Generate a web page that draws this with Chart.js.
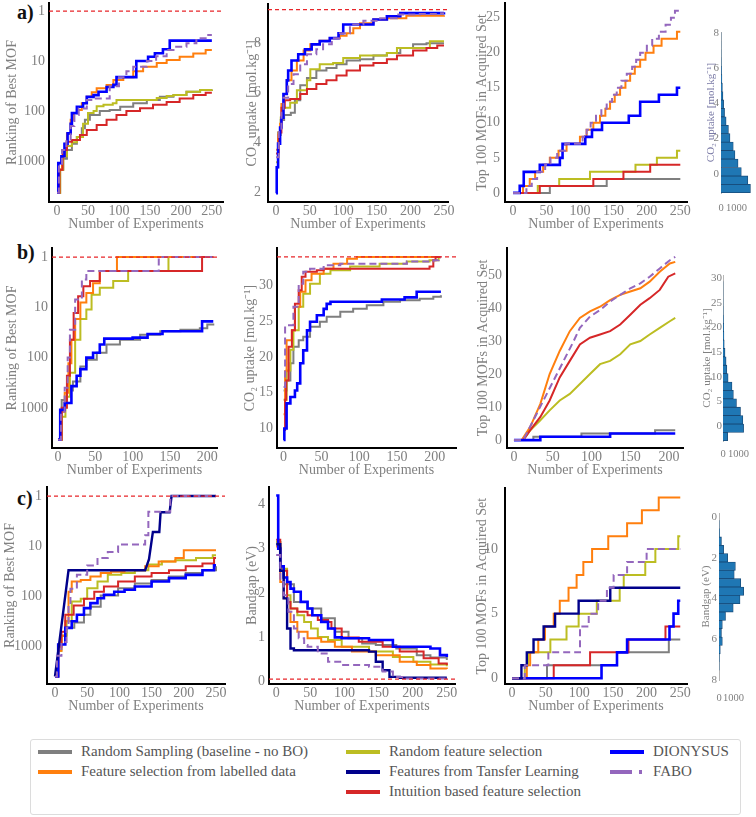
<!DOCTYPE html>
<html><head><meta charset="utf-8">
<script src="https://cdn.jsdelivr.net/npm/chart.js@4.4.1/dist/chart.umd.min.js"></script>
<style>
html,body{margin:0;padding:0;background:#fff}
body{width:756px;height:817px;position:relative;overflow:hidden;font-family:"Liberation Serif","Times New Roman",serif}
.tag{position:absolute;font-weight:bold;font-size:20px;line-height:20px;color:#111}
.leg{position:absolute;font-size:15px;line-height:16px;color:#555;white-space:nowrap}
.sw{position:absolute;height:4px}
</style></head><body>
<div class="tag" style="left:17px;top:2px">a)</div>
<div class="tag" style="left:17px;top:242px">b)</div>
<div class="tag" style="left:17px;top:488px">c)</div>
<div style="position:absolute;left:30px;top:739px;width:711px;height:76px;border:1px solid #dcdcdc;border-radius:3px;box-sizing:border-box"></div>
<script>
// ---------- tick labels ----------
const X250 = [0, 50, 100, 150, 200, 250];
const X200 = [0, 50, 100, 150, 200];
const RANK_TICKS = [1, 10, 100, 1000];
const CO2A_TICKS = [2, 4, 6, 8];
const TOPA_TICKS = [0, 5, 10, 15, 20, 25];
const CO2B_TICKS = [10, 15, 20, 25, 30];
const TOPB_TICKS = [0, 10, 20, 30, 40, 50];
const GAP_TICKS = [0, 1, 2, 3, 4];
const TOPC_TICKS = [0, 5, 10];
const HISTA_TICKS = [0, 2, 4, 6, 8];
const HISTB_TICKS = [0, 5, 10, 15, 20, 25, 30];
const HISTC_TICKS = [0, 2, 4, 6, 8];
const COUNT_TICKS = [0, 1000];

// ---------- legend ----------
const legendLabels = ['Random Sampling (baseline - no BO)', 'Feature selection from labelled data',
  'Random feature selection', 'Features from Tansfer Learning', 'Intuition based feature selection',
  'DIONYSUS', 'FABO'];

// ---------- row a ----------
const a1_random = [[0,4300],[5,1500],[10,900],[16,600],[24,450],[32,330],[40,220],[45,150],[53,120],[69,100],[85,95],[102,82],[123,70],[145,60],[166,52],[188,48],[209,41],[231,38],[250,37]];
const a1_labelled = [[0,4300],[3,1500],[8,800],[13,450],[16,280],[22,150],[27,110],[32,95],[40,70],[48,52],[56,42],[64,35],[80,30],[91,24],[107,21],[123,16],[139,13],[161,11],[177,9.5],[198,8.2],[220,7.1],[240,6.0],[250,6.0]];
const a1_randfeat = [[0,4300],[5,1500],[10,800],[16,500],[24,420],[32,330],[42,180],[50,110],[59,100],[64,80],[75,75],[90,70],[96,60],[161,55],[177,50],[188,48],[209,41],[231,38],[250,37]];
const a1_intuition = [[0,4300],[4,1500],[9,600],[16,410],[24,380],[37,300],[48,240],[64,190],[80,150],[96,120],[112,100],[134,88],[155,75],[177,66],[198,56],[220,48],[240,43],[250,43]];
const a1_dionysus = [[0,4300],[2,1100],[7,800],[12,450],[17,280],[22,180],[24,110],[32,82],[42,70],[48,52],[59,48],[67,41],[80,33],[91,30],[96,21],[128,10],[147,8.2],[158,7],[171,5.8],[182,3.9],[250,3.9]];
const a1_fabo = [[0,4300],[3,1200],[8,600],[15,400],[22,200],[28,120],[35,89],[48,60],[60,56],[85,32],[100,21],[112,16],[123,13],[145,10],[160,8],[177,6],[188,5.2],[209,4.4],[225,3.5],[240,3.0],[250,3.0]];

const a2_random = [[0,3.0],[3,4.3],[7,4.9],[12,5.1],[22,5.2],[28,5.7],[36,6.3],[46,6.6],[60,6.9],[75,7.0],[90,7.15],[105,7.3],[125,7.35],[145,7.5],[165,7.6],[185,7.8],[204,7.95],[224,8.0],[250,8.0]];
const a2_labelled = [[0,3.7],[3,4.3],[6,4.75],[8,5.55],[12,5.95],[16,6.5],[23,6.9],[31,7.3],[41,7.7],[51,7.95],[65,8.1],[80,8.2],[95,8.3],[105,8.4],[115,8.6],[125,8.8],[145,8.95],[165,9.0],[194,9.1],[250,9.12]];
const a2_randfeat = [[0,3.2],[3,4.4],[7,5.0],[11,5.4],[21,5.6],[31,6.1],[46,6.5],[51,6.95],[65,7.15],[85,7.2],[100,7.4],[125,7.5],[165,7.6],[180,7.8],[229,8.08],[250,8.08]];
const a2_intuition = [[0,3.55],[4,4.4],[8,5.4],[13,5.7],[21,5.75],[36,5.95],[46,6.15],[60,6.35],[75,6.5],[90,6.7],[105,6.9],[125,7.1],[145,7.2],[165,7.35],[180,7.5],[204,7.7],[224,7.8],[240,7.9],[250,7.9]];
const a2_dionysus = [[0,1.95],[1,3.0],[3,3.95],[6,4.6],[8,5.0],[11,5.95],[16,6.5],[18,6.9],[23,7.3],[33,7.55],[43,7.75],[53,7.95],[65,8.08],[80,8.2],[93,8.4],[100,8.75],[145,8.95],[165,9.08],[185,9.21],[250,9.24]];
const a2_fabo = [[0,3.4],[4,4.5],[8,5.2],[11,5.8],[18,6.35],[26,6.75],[36,7.15],[46,7.55],[60,7.75],[70,7.95],[83,8.2],[95,8.4],[110,8.75],[130,8.9],[155,9.0],[180,9.15],[214,9.17],[244,9.2],[250,9.2]];
const a2_best = 9.35;

const a3_random = [[0,0],[55,1],[140,2],[250,2]];
const a3_labelled = [[0,0],[15,1],[25,2],[33,3],[45,4],[55,5],[68,6],[80,7],[100,8],[110,9],[120,10],[130,11],[138,12],[145,13],[152,14],[160,15],[168,16],[175,17],[182,18],[190,19],[198,20],[210,21],[222,22],[245,23],[250,23]];
const a3_randfeat = [[0,0],[37,1],[69,2],[115,3],[183,4],[215,5],[245,6],[250,6]];
const a3_intuition = [[0,0],[40,1],[120,2],[165,3],[205,4],[250,4]];
const a3_dionysus = [[0,0],[10,1],[16,3],[40,4],[70,5],[74,7],[108,8],[118,9],[133,10],[173,11],[190,13],[218,14],[245,15],[250,15]];
const a3_fabo = [[0,0],[20,1],[28,2],[36,3],[48,4],[56,5],[66,6],[78,7],[104,8],[110,9],[116,10],[124,11],[132,12],[140,13],[148,14],[155,15],[162,16],[170,17],[178,18],[184,19],[190,20],[200,21],[208,22],[218,23],[228,24],[236,25],[242,26],[250,26]];

const histA_centers = [-0.85,-0.37,0.11,0.59,1.07,1.55,2.03,2.51,2.99,3.47,3.95,4.43,4.91,5.39,5.87,6.35,6.83,7.31,7.79];
const histA_counts = [1900,1730,1310,1100,900,790,580,480,330,230,170,125,90,60,30,15,8,4,2];

// ---------- row b ----------
const b1_random = [[0,4300],[5,700],[12,450],[20,300],[30,150],[38,110],[52,80],[65,55],[83,44],[110,35],[137,30],[164,28],[190,26],[200,22],[208,21]];
const b1_labelled = [[0,4300],[4,1200],[9,500],[14,130],[18,44],[23,17],[30,8],[38,5.2],[47,3.3],[56,1.9],[79,1],[208,1]];
const b1_randfeat = [[0,4300],[5,1500],[10,600],[16,200],[23,44],[30,17],[38,11],[45,5.6],[56,4.1],[74,3.0],[94,1.9],[148,1],[208,1]];
const b1_intuition = [[0,4300],[5,1000],[12,230],[16,44],[21,13],[27,6],[34,3.8],[43,3.0],[56,1.9],[193,1],[208,1]];
const b1_dionysus = [[0,4300],[3,1100],[9,800],[18,370],[25,230],[30,170],[38,100],[47,80],[56,55],[62,42],[100,40],[120,34],[140,30],[193,19],[208,19]];
const b1_fabo = [[0,4300],[4,1200],[9,400],[13,100],[16,28],[23,7],[32,2.8],[38,1.9],[135,1],[208,1]];

const b2_random = [[0,15.3],[4,16.7],[9,19.1],[13,21.4],[20,22.3],[26,22.8],[35,24.2],[48,24.9],[57,25.6],[75,26.3],[92,26.7],[110,27.2],[132,27.7],[154,27.9],[180,28.1],[198,28.4],[208,28.6]];
const b2_labelled = [[0,12],[2,18],[4,22.3],[11,23.7],[15,27],[22,29.1],[29,30.7],[37,31.6],[53,32.3],[66,33.0],[84,33.7],[97,33.95],[208,33.95]];
const b2_randfeat = [[0,14],[4,18.1],[9,21],[13,23.7],[20,27],[26,28.8],[35,30.2],[48,31.6],[62,32.1],[88,32.6],[127,33.0],[163,33.3],[193,33.5],[205,33.9],[208,33.9]];
const b2_intuition = [[0,9.8],[2,14],[3.5,16.7],[6.6,21.4],[11,23.7],[15,27.4],[20,29.3],[24,31.2],[29,31.9],[44,32.1],[53,32.3],[193,32.6],[198,33.5],[201,33.95],[208,33.95]];
const b2_dionysus = [[0,8.4],[1,10],[4,13.5],[9,14.4],[15,15.3],[18,16.3],[22,19.1],[26,20.9],[31,23.7],[35,24.9],[44,25.8],[53,26.7],[57,27.4],[62,27.7],[130,28.0],[160,28.3],[176,29.1],[208,29.1]];
const b2_fabo = [[0,15.8],[2,24.4],[13,27],[20,30.2],[26,31.9],[35,32.3],[53,32.8],[75,33.0],[163,33.3],[198,33.5],[205,33.9],[208,33.9]];
const b2_best = 33.95;

const b3_random = [[0,0],[25,1],[87,2],[182,3],[208,3]];
const b3_labelled = [[0,0],[10,0],[21,4],[34,11],[46,20],[59,27],[72,33],[85,37],[98,39],[111,40.4],[124,42.4],[137,44],[150,45],[163,46],[175,48],[188,51],[201,53.5],[208,54]];
const b3_randfeat = [[0,0],[12,0],[21,3],[34,6],[46,9],[59,12],[72,14],[85,17],[98,20],[111,23],[124,24],[137,26],[150,29],[163,30],[175,32],[188,34],[201,36],[208,37]];
const b3_intuition = [[0,0],[12,0],[21,3],[34,7],[46,12],[59,19],[72,24],[85,29],[98,31],[111,32],[124,33],[137,35],[150,38],[163,41],[175,43],[188,45.5],[199,49.5],[208,50.5]];
const b3_dionysus = [[0,0],[34,1],[124,2],[208,2]];
const b3_fabo = [[0,0],[12,0],[25,6],[38,12],[51,18],[64,24],[77,30],[85,34],[98,37.4],[111,39.4],[124,42],[137,44],[150,46],[163,47.5],[175,49.5],[188,52],[201,54.5],[208,55.5]];

const histB_centers = [-2.1,-0.4,1.3,3.0,4.7,6.4,8.1,9.8,11.5,13.2,14.9,16.6,18.3,20.0,21.7,23.4,25.1,26.8,28.5];
const histB_counts = [300,1330,1280,1130,870,670,580,330,250,200,130,80,60,40,25,12,6,3,1];

// ---------- row c ----------
const c1_random = [[0,3900],[5,900],[10,600],[18,420],[30,330],[45,230],[55,160],[71,95],[98,68],[124,55],[150,47],[177,40],[203,34],[229,30],[250,25]];
const c1_labelled = [[0,3900],[5,1200],[10,600],[16,310],[21,80],[26,50],[40,47],[55,40],[71,34],[87,32],[108,30],[140,25],[161,20],[187,17],[200,12],[250,12]];
const c1_randfeat = [[0,3900],[5,1200],[10,600],[18,310],[26,125],[40,110],[50,68],[66,50],[82,37],[103,34],[124,30],[145,23],[166,20],[187,19],[219,17],[245,15],[250,15]];
const c1_intuition = [[0,3900],[5,1000],[10,500],[16,230],[29,150],[45,110],[61,80],[76,63],[98,50],[124,40],[150,34],[177,30],[203,25],[229,22],[247,17],[250,17]];
const c1_dionysus = [[0,3900],[5,900],[16,420],[26,310],[34,230],[45,170],[55,135],[66,108],[76,92],[92,80],[108,73],[124,63],[150,50],[177,43],[203,37],[229,30],[247,24],[250,24]];
const c1_transfer = [[0,3900],[21,30],[140,30],[146,18],[152,5.2],[162,5.2],[164,2.1],[178,2.1],[181,1],[250,1]];
const c1_fabo = [[0,3900],[3,1500],[10,800],[18,420],[21,150],[24,70],[34,37],[50,24],[66,17],[82,13],[98,9.2],[140,6],[145,2.05],[179,1],[250,1]];

const c2_random = [[0,3.15],[6,2.5],[11,2.2],[26,1.8],[46,1.65],[66,1.43],[86,1.13],[106,0.98],[126,0.86],[146,0.83],[176,0.75],[206,0.6],[226,0.55],[250,0.49]];
const c2_labelled = [[0,3.05],[6,2.25],[11,1.88],[16,1.58],[21,1.35],[31,1.13],[46,0.98],[66,0.9],[86,0.79],[111,0.68],[146,0.6],[181,0.45],[206,0.38],[226,0.3],[250,0.29]];
const c2_randfeat = [[0,3.15],[6,2.55],[16,1.95],[21,1.65],[31,1.5],[41,1.35],[51,1.2],[61,1.01],[76,0.94],[96,0.79],[136,0.68],[171,0.56],[201,0.45],[226,0.39],[250,0.35]];
const c2_intuition = [[0,3.2],[6,2.5],[16,1.8],[21,1.65],[31,1.58],[46,1.5],[61,1.39],[76,1.35],[81,1.2],[96,1.0],[121,0.9],[156,0.79],[181,0.68],[216,0.53],[238,0.41],[250,0.38]];
const c2_dionysus = [[0,4.2],[3,3.0],[6,2.6],[11,2.35],[16,2.25],[21,2.1],[26,2.03],[36,1.8],[46,1.65],[53,1.5],[66,1.35],[76,1.2],[86,1.0],[96,0.98],[136,0.94],[171,0.79],[226,0.75],[240,0.6],[250,0.56]];
const c2_transfer = [[0,3.1],[6,2.5],[11,1.88],[16,1.2],[21,0.75],[26,0.71],[136,0.68],[146,0.45],[156,0.26],[166,0.11],[181,0.09],[250,0.09]];
const c2_fabo = [[0,2.86],[6,2.25],[11,1.95],[18,1.58],[26,1.2],[33,0.98],[41,0.83],[46,0.79],[61,0.64],[76,0.45],[96,0.38],[136,0.34],[156,0.23],[171,0.11],[186,0.075],[250,0.075]];
const c2_best = 0.06;

const c3_random = [[0,0],[52,1],[156,2],[233,3],[250,3]];
const c3_labelled = [[0,0],[22,1],[27,2],[39,3],[49,4],[62,5],[71,6],[84,7],[96,8],[106,9],[119,10],[143,11],[171,12],[193,13],[218,14],[250,14]];
const c3_randfeat = [[0,0],[19,1],[24,2],[57,3],[81,4],[99,5],[126,6],[160,7],[166,8],[198,9],[213,10],[247,11],[250,11]];
const c3_intuition = [[0,0],[62,1],[116,2],[173,3],[228,4],[250,4]];
const c3_dionysus = [[0,0],[133,1],[156,2],[171,3],[234,4],[240,5],[247,6],[250,6]];
const c3_transfer = [[0,0],[14,1],[22,2],[32,3],[47,4],[64,5],[99,6],[146,7],[250,7]];
const c3_fabo = [[0,0],[19,1],[54,2],[101,4],[114,5],[128,6],[141,7],[151,8],[171,9],[200,10],[250,10]];

const histC_centers = [0.36,0.77,1.18,1.59,2.0,2.41,2.82,3.23,3.64,4.05,4.46,4.87,5.28,5.69,6.1,6.51,6.92,7.33];
const histC_counts = [10,30,170,320,600,1130,1050,1500,1700,1450,980,450,230,170,230,90,20,8];

// ---------- styling ----------
const FONT = '"Liberation Serif","Times New Roman",serif';
const TXT = '#808080';
const COL = {random:'#7f7f7f', labelled:'#ff7f0e', randfeat:'#bcbd22', transfer:'#00008b',
  intuition:'#d62728', dionysus:'#0000ff', fabo:'#9467bd', best:'#e8262a'};
const WID = {random:2, labelled:2, randfeat:2, transfer:2.4, intuition:2, dionysus:2.6, fabo:2};

function ds(pts, key, stepped = true) {
  return {data: pts.map(p => ({x: p[0], y: p[1]})), borderColor: COL[key], borderWidth: WID[key],
    borderDash: key === 'fabo' ? [7, 4] : [], stepped: stepped, pointRadius: 0, fill: false, tension: 0};
}
function bestDs(v, xr) {
  return {data: [{x: xr[0], y: v}, {x: xr[1], y: v}], borderColor: COL.best, borderWidth: 1.3,
    borderDash: [4, 3], pointRadius: 0, fill: false};
}

function makeChart(g, type, datasets, hist) {
  const padT = 14, padR = hist ? 0 : 8;
  const cl = g.cl, ct = g.T - padT;
  const W = g.R - cl + padR, H = g.B + g.padB - ct;
  const cv = document.createElement('canvas');
  cv.width = W; cv.height = H;
  cv.style.cssText = `position:absolute;left:${cl}px;top:${ct}px;width:${W}px;height:${H}px`;
  document.body.appendChild(cv);
  const fs = hist ? 11 : 14, tfs = hist ? 11 : 14;
  new Chart(cv, {
    type: type,
    data: {datasets: datasets},
    options: {
      responsive: false, animation: false, devicePixelRatio: 1,
      indexAxis: hist ? 'y' : 'x',
      layout: {padding: {left: 0, top: padT, right: padR, bottom: 0}},
      plugins: {legend: {display: false}, tooltip: {enabled: false}},
      scales: {
        x: {
          type: 'linear', min: g.xr[0], max: g.xr[1], offset: false,
          afterFit: s => { s.height = g.padB; },
          afterBuildTicks: s => { s.ticks = g.xt.map(v => ({value: v})); },
          grid: {display: false, drawTicks: false},
          border: {display: !hist, color: '#000', width: 2},
          ticks: {color: TXT, font: {family: FONT, size: hist ? 10.5 : 14}, padding: g.xPad,
            maxRotation: 0, autoSkip: false, callback: v => String(v)},
          title: hist ? {display: false} : {display: true, text: 'Number of Experiments', color: TXT,
            font: {family: FONT, size: 14}, padding: {top: 0, bottom: g.padB - 22 - 8.4}}
        },
        y: {
          type: g.log ? 'logarithmic' : 'linear', reverse: !!g.reverse, offset: false,
          min: g.yr[0], max: g.yr[1],
          afterFit: s => { s.width = g.L - cl; },
          afterBuildTicks: s => { s.ticks = g.yt.map(v => ({value: v})); },
          grid: {display: false, drawTicks: false},
          border: {display: true, color: hist ? '#b5b5b5' : '#000', width: hist ? 1 : 2},
          ticks: {color: TXT, font: {family: FONT, size: fs}, padding: g.yPad, autoSkip: false,
            callback: v => String(v)},
          title: {display: true, text: g.title, color: g.titleColor || TXT, font: {family: FONT, size: tfs},
            padding: {top: Math.max(0, g.tX - cl - tfs * 0.6), bottom: 0}}
        }
      }
    }
  });
}

function linePanel(g, sets) {
  const d = [];
  if (g.best !== undefined) d.push(bestDs(g.best, g.xr));
  sets.forEach(s => d.push(ds(s[0], s[1], s[2] === undefined ? true : s[2])));
  g.padB = 34; g.xPad = 1;
  makeChart(g, 'line', d, false);
}
function histPanel(g, centers, counts) {
  const d = [{data: centers.map((c, i) => ({x: counts[i], y: c})), backgroundColor: '#1f77b4',
    borderColor: '#174a78', borderWidth: 0.8, barPercentage: 1, categoryPercentage: 1, borderSkipped: 'start'}];
  g.xt = COUNT_TICKS;
  makeChart(g, 'bar', d, true);
}

const T_RANK = 'Ranking of Best MOF', T_CO2 = 'CO₂ uptake [mol.kg⁻¹]', T_TOP = 'Top 100 MOFs in Acquired Set', T_GAP = 'Bandgap (eV)';

// row a
linePanel({L:49,T:3,R:223,B:202,cl:2,xr:[-13,268],xt:X250,yr:[0.69,6600],log:true,reverse:true,yt:RANK_TICKS,title:T_RANK,tX:12,yPad:4,best:1},
  [[a1_fabo,'fabo'],[a1_dionysus,'dionysus'],[a1_intuition,'intuition'],[a1_labelled,'labelled'],[a1_randfeat,'randfeat'],[a1_random,'random']]);
linePanel({L:268,T:3,R:448,B:202,cl:242,xr:[-12,256],xt:X250,yr:[1.6,9.56],yt:CO2A_TICKS,title:T_CO2,tX:252,yPad:7,best:a2_best},
  [[a2_fabo,'fabo'],[a2_dionysus,'dionysus'],[a2_intuition,'intuition'],[a2_labelled,'labelled'],[a2_randfeat,'randfeat'],[a2_random,'random']]);
linePanel({L:505,T:3,R:687,B:202,cl:472,xr:[-12,260],xt:X250,yr:[-1.3,27.1],yt:TOPA_TICKS,title:T_TOP,tX:482,yPad:5},
  [[a3_fabo,'fabo'],[a3_dionysus,'dionysus'],[a3_intuition,'intuition'],[a3_labelled,'labelled'],[a3_randfeat,'randfeat'],[a3_random,'random']]);
histPanel({L:721,T:32,R:756,B:193,cl:704,padB:24,xPad:9,xr:[0,2200],yr:[-1.1,8.05],yt:HISTA_TICKS,title:T_CO2,titleColor:'#7a7aa6',tX:711,yPad:2}, histA_centers, histA_counts);

// row b
linePanel({L:52,T:248,R:217,B:448,cl:2,xr:[-8,213],xt:X200,yr:[0.66,6300],log:true,reverse:true,yt:RANK_TICKS,title:T_RANK,tX:12,yPad:4,best:1},
  [[b1_fabo,'fabo'],[b1_dionysus,'dionysus'],[b1_intuition,'intuition'],[b1_labelled,'labelled'],[b1_randfeat,'randfeat'],[b1_random,'random']]);
linePanel({L:277,T:248,R:456,B:448,cl:240,xr:[-8.7,228],xt:X200,yr:[7.27,35.2],yt:CO2B_TICKS,title:T_CO2,tX:250,yPad:4,best:b2_best},
  [[b2_fabo,'fabo'],[b2_dionysus,'dionysus'],[b2_intuition,'intuition'],[b2_labelled,'labelled'],[b2_randfeat,'randfeat'],[b2_random,'random']]);
linePanel({L:507,T:248,R:683,B:448,cl:473,xr:[-9,218],xt:X200,yr:[-2.4,58.2],yt:TOPB_TICKS,title:T_TOP,tX:483,yPad:5},
  [[b3_fabo,'fabo',false],[b3_dionysus,'dionysus'],[b3_intuition,'intuition',false],[b3_labelled,'labelled',false],[b3_randfeat,'randfeat',false],[b3_random,'random']]);
histPanel({L:723,T:275,R:756,B:441,cl:700,padB:22,xPad:7,xr:[0,1650],yr:[-3,30.6],yt:HISTB_TICKS,title:T_CO2,tX:707,yPad:1}, histB_centers, histB_counts);

// row c
linePanel({L:47,T:487,R:225,B:684,cl:1,xr:[-12.4,264],xt:X250,yr:[0.66,5500],log:true,reverse:true,yt:RANK_TICKS,title:T_RANK,tX:10,yPad:5,best:1},
  [[c1_fabo,'fabo'],[c1_transfer,'transfer',false],[c1_dionysus,'dionysus'],[c1_intuition,'intuition'],[c1_labelled,'labelled'],[c1_randfeat,'randfeat'],[c1_random,'random']]);
linePanel({L:269,T:487,R:455,B:684,cl:242,xr:[-10.5,262],xt:X250,yr:[-0.05,4.39],yt:GAP_TICKS,title:T_GAP,tX:252,yPad:4,best:c2_best},
  [[c2_fabo,'fabo'],[c2_transfer,'transfer'],[c2_dionysus,'dionysus'],[c2_intuition,'intuition'],[c2_labelled,'labelled'],[c2_randfeat,'randfeat'],[c2_random,'random']]);
linePanel({L:505,T:487,R:687,B:684,cl:472,xr:[-10.4,260],xt:X250,yr:[-0.45,14.7],yt:TOPC_TICKS,title:T_TOP,tX:482,yPad:7},
  [[c3_fabo,'fabo'],[c3_transfer,'transfer'],[c3_dionysus,'dionysus'],[c3_intuition,'intuition'],[c3_labelled,'labelled'],[c3_randfeat,'randfeat'],[c3_random,'random']]);
histPanel({L:719,T:513,R:756,B:680,cl:699,padB:30,xPad:12,xr:[0,2050],yr:[-0.2,8],reverse:true,yt:HISTC_TICKS,title:T_GAP,tX:706,yPad:2}, histC_centers, histC_counts);

// ---------- legend ----------
const legendKeys = ['random','labelled','randfeat','transfer','intuition','dionysus','fabo'];
const legendPos = [[38,752],[38,772],[346,752],[346,772],[346,792],[610,752],[610,772]];
legendKeys.forEach((k, i) => {
  const [x, y] = legendPos[i];
  if (k === 'fabo') {
    const a = document.createElement('div'); a.className = 'sw';
    a.style.cssText += `left:${x}px;top:${y-2}px;width:22px;background:${COL[k]}`;
    const b = document.createElement('div'); b.className = 'sw';
    b.style.cssText += `left:${x+29}px;top:${y-2}px;width:3px;background:${COL[k]}`;
    document.body.appendChild(a); document.body.appendChild(b);
  } else {
    const a = document.createElement('div'); a.className = 'sw';
    a.style.cssText += `left:${x}px;top:${y-2}px;width:34px;background:${COL[k]}`;
    document.body.appendChild(a);
  }
  const t = document.createElement('div'); t.className = 'leg';
  t.style.left = (x + 43) + 'px'; t.style.top = (y - 9) + 'px';
  t.textContent = legendLabels[i];
  document.body.appendChild(t);
});
</script>
</body></html>
